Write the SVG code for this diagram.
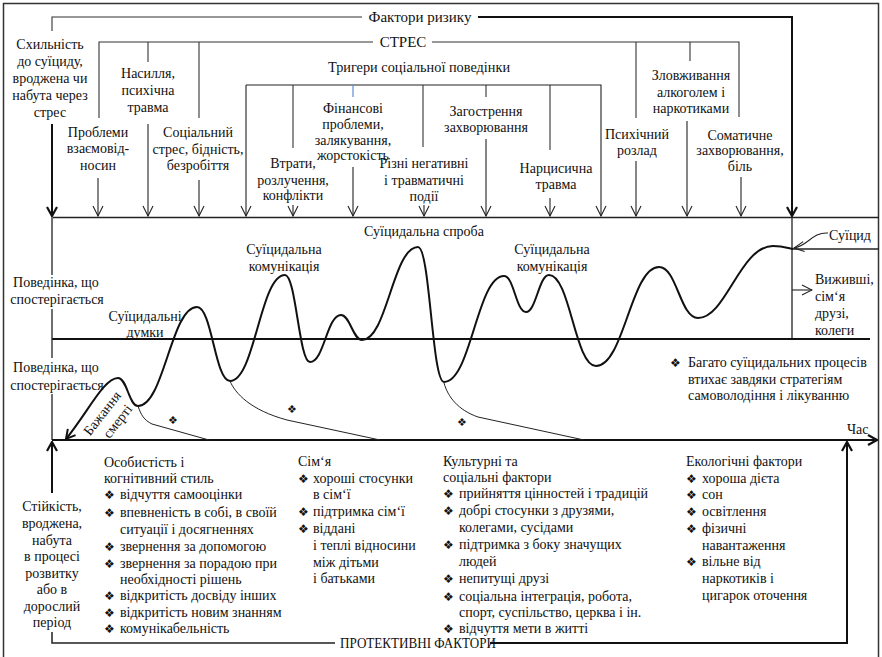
<svg xmlns="http://www.w3.org/2000/svg" width="882" height="657" viewBox="0 0 882 657">
<style>
text{font-family:'Liberation Serif','Times New Roman',serif;font-size:14px;fill:#111}
.h{font-size:15px}
.h2{font-size:14.3px}
.m{text-anchor:middle}
.b{font-family:'DejaVu Sans',sans-serif;font-size:12px}
.d{font-family:'DejaVu Sans',sans-serif;font-size:11px}
.ln{stroke:#333;stroke-width:1.1;fill:none}
.ar{stroke:#222;stroke-width:1.1;fill:none;marker-end:url(#a)}
.tk{stroke:#111;stroke-width:2;fill:none}
.tka{stroke:#111;stroke-width:2;fill:none;marker-end:url(#ab)}
</style>
<defs>
<marker id="a" viewBox="-11 -6 12 12" refX="0" refY="0" markerWidth="12" markerHeight="12" markerUnits="userSpaceOnUse" orient="auto">
<path d="M-10,-5 L0,0 L-10,5" fill="none" stroke="#222" stroke-width="1.1"/>
</marker>
<marker id="ab" viewBox="-11 -6 12 12" refX="0" refY="0" markerWidth="12" markerHeight="12" markerUnits="userSpaceOnUse" orient="auto">
<path d="M-9,-5 L0,0 L-9,5" fill="none" stroke="#111" stroke-width="2.2"/>
</marker>
<marker id="as" viewBox="-11 -6 12 12" refX="0" refY="0" markerWidth="12" markerHeight="12" markerUnits="userSpaceOnUse" orient="auto-start-reverse">
<path d="M-9,-5 L0,0 L-9,5" fill="none" stroke="#111" stroke-width="2"/>
</marker>
</defs>
<rect x="0" y="0" width="882" height="657" fill="#fff"/>
<rect x="3.5" y="3.5" width="875" height="665" fill="none" stroke="#333" stroke-width="1.5"/>

<g id="connectors">
<path class="ln" d="M52,31 V17 H362"/>
<path class="tka" d="M478,17 H792 V216"/>
<path class="tka" d="M52,124 V216"/>
<path class="ln" d="M99,118 V42 H373"/>
<path class="ln" d="M432,42 H739 V117"/>
<path class="ln" d="M148,42 V62"/>
<path class="ln" d="M199,42 V118"/>
<path class="ln" d="M636,42 V118"/>
<path class="ln" d="M690,42 V61"/>
<path class="ar" d="M246,85 H601 V216"/>
<path class="ar" d="M246,85 V216"/>
<path class="ln" d="M293,85 V148"/>
<path d="M353,85 V97" stroke="#5b8fd0" stroke-width="1.2" fill="none"/>
<path class="ln" d="M423,85 V147"/>
<path class="ln" d="M486,85 V97"/>
<path class="ln" d="M550,85 V150"/>
<path class="ar" d="M98,178 V216"/>
<path class="ar" d="M148,124 V216"/>
<path class="ar" d="M199,180 V216"/>
<path class="ar" d="M293,205 V216"/>
<path class="ar" d="M353,167 V216"/>
<path class="ar" d="M424,205 V216"/>
<path class="ar" d="M486,139 V216"/>
<path class="ar" d="M550,198 V216"/>
<path class="ar" d="M636,161 V216"/>
<path class="ar" d="M687,121 V216"/>
<path class="ar" d="M741,177 V216"/>
<path d="M53,217.5 H879" stroke="#222" stroke-width="1.5" fill="none"/>
<path d="M792,217 V339" stroke="#222" stroke-width="1.3" fill="none"/>
<path d="M792,249 H879" stroke="#222" stroke-width="1.5" fill="none"/>
<path class="tk" d="M52,339 H870"/>
<path d="M52,217 V275 M52,309 V358 M52,394 V440" stroke="#222" stroke-width="1.3" fill="none"/>
<path class="tka" d="M52,440 H877"/>
<path class="ar" d="M828,233 C812,232 808,246 794,248"/>
<path class="ar" d="M792,290 H812"/>
<path class="tk" style="marker-start:url(#as)" d="M66,439 C88,412 104,378 118,378 C127,378 129,406 138,406 C164,406 171,307 197,307 C212,307 215,381 230,381 C255,381 260,275 285,275 C296,275 299,362 310,362 C324,362 327,315 341,315 C350,315 353,340 362,340 C387,340 393,247 418,247 C430,247 432,382 444,382 C471,382 477,276 504,276 C514,276 516,312 526,312 C536,312 539,275 549,275 C570,275 575,366 596,366 C624,366 631,267 659,267 C677,267 680,318 698,318 C726,318 740,246 773,246 C782,246 788,248 793,249"/>
<path d="M138,406 C141,415 144,420 152,424 L209,440" stroke="#222" stroke-width="1" fill="none"/>
<path d="M230,381 C235,393 250,410 287,420 L380,440" stroke="#222" stroke-width="1" fill="none"/>
<path d="M444,383 C448,397 458,410 478,417 L584,440" stroke="#222" stroke-width="1" fill="none"/>
<path class="tka" d="M52,493 V442"/>
<path d="M52,632 V643 H335" stroke="#222" stroke-width="1.5" fill="none"/>
<path class="tka" d="M490,643 H847 V442"/>
</g>

<g id="risk-header">
<text class="m h" x="420" y="22">Фактори ризику</text>
<text class="m h" x="403" y="47">СТРЕС</text>
<text class="m h2" x="419" y="72">Тригери соціальної поведінки</text>
</g>
<g id="n-predisposition">
<text class="m" x="50" y="49">Схильність</text>
<text class="m" x="50" y="66">до суїциду,</text>
<text class="m" x="50" y="83">вроджена чи</text>
<text class="m" x="50" y="100">набута через</text>
<text class="m" x="50" y="117">стрес</text>
</g>
<g id="n-violence">
<text class="m" x="148" y="78">Насилля,</text>
<text class="m" x="148" y="95">психічна</text>
<text class="m" x="148" y="112">травма</text>
</g>
<g id="n-relations">
<text class="m" x="98" y="137">Проблеми</text>
<text class="m" x="98" y="153">взаємовід-</text>
<text class="m" x="98" y="170">носин</text>
</g>
<g id="n-social-stress">
<text class="m" x="198" y="137">Соціальний</text>
<text class="m" x="198" y="154">стрес, бідність,</text>
<text class="m" x="198" y="170">безробіття</text>
</g>
<g id="n-loss">
<text class="m" x="293" y="168">Втрати,</text>
<text class="m" x="293" y="185">розлучення,</text>
<text class="m" x="293" y="200">конфлікти</text>
</g>
<g id="n-finance">
<text class="m" x="353" y="113">Фінансові</text>
<text class="m" x="353" y="129">проблеми,</text>
<text class="m" x="353" y="145">залякування,</text>
<text class="m" x="353" y="160">жорстокість</text>
</g>
<g id="n-negative">
<text class="m" x="424" y="168">Різні негативні</text>
<text class="m" x="424" y="185">і травматичні</text>
<text class="m" x="424" y="201">події</text>
</g>
<g id="n-disease">
<text class="m" x="486" y="116">Загострення</text>
<text class="m" x="486" y="132">захворювання</text>
</g>
<g id="n-narcissic">
<text class="m" x="556" y="173">Нарцисична</text>
<text class="m" x="556" y="189">травма</text>
</g>
<g id="n-mental">
<text class="m" x="637" y="139">Психічний</text>
<text class="m" x="637" y="155">розлад</text>
</g>
<g id="n-abuse">
<text class="m" x="691" y="80">Зловживання</text>
<text class="m" x="691" y="97">алкоголем і</text>
<text class="m" x="691" y="113">наркотиками</text>
</g>
<g id="n-somatic">
<text class="m" x="740" y="140">Соматичне</text>
<text class="m" x="740" y="155">захворювання,</text>
<text class="m" x="740" y="171">біль</text>
</g>

<g id="chart-labels">
<text class="m" x="56" y="287">Поведінка, що</text>
<text class="m" x="57" y="304">спостерігається</text>
<text class="m" x="56" y="372">Поведінка, що</text>
<text class="m" x="57" y="390">спостерігається</text>
<text class="m" x="145" y="321">Суїцидальні</text>
<text class="m" x="145" y="337">думки</text>
<text class="m" x="284" y="254">Суїцидальна</text>
<text class="m" x="284" y="271">комунікація</text>
<text class="m" x="424" y="236">Суїцидальна спроба</text>
<text class="m" x="552" y="254">Суїцидальна</text>
<text class="m" x="552" y="271">комунікація</text>
<text x="829" y="240">Суїцид</text>
<text x="815" y="284">Вижившi,</text>
<text x="815" y="301">сім‘я</text>
<text x="815" y="318">друзі,</text>
<text x="815" y="335">колеги</text>
<text y="367"><tspan class="b" x="670">❖</tspan><tspan x="688">Багато суїцидальних процесів</tspan></text>
<text x="688" y="384">втихає завдяки стратегіям</text>
<text x="688" y="400">самоволодіння і лікуванню</text>
<text x="847" y="434">Час</text>
<g transform="translate(102,413) rotate(-52)">
<text class="m" x="0" y="5">Бажання</text>
<text class="m" x="3" y="22">смерті</text>
</g>
<text class="d m" x="173" y="424">❖</text>
<text class="d m" x="292" y="413">❖</text>
<text class="d m" x="462" y="426">❖</text>
</g>

<g id="n-resilience">
<text class="m" x="52" y="511">Стійкість,</text>
<text class="m" x="52" y="528">вроджена,</text>
<text class="m" x="52" y="545">набута</text>
<text class="m" x="52" y="561">в процесі</text>
<text class="m" x="52" y="578">розвитку</text>
<text class="m" x="52" y="594">або в</text>
<text class="m" x="52" y="611">дорослий</text>
<text class="m" x="52" y="627">період</text>
</g>
<g id="n-personality">
<text x="104" y="467">Особистість і</text>
<text x="104" y="483">когнітивний стиль</text>
<text y="499"><tspan class="b" x="104">❖</tspan><tspan x="120">відчуття самооцінки</tspan></text>
<text y="517"><tspan class="b" x="104">❖</tspan><tspan x="120">впевненість в собі, в своїй</tspan></text>
<text x="120" y="534">ситуації і досягненнях</text>
<text y="551"><tspan class="b" x="104">❖</tspan><tspan x="120">звернення за допомогою</tspan></text>
<text y="568"><tspan class="b" x="104">❖</tspan><tspan x="120">звернення за порадою при</tspan></text>
<text x="120" y="584">необхідності рішень</text>
<text y="600"><tspan class="b" x="104">❖</tspan><tspan x="120">відкритість досвіду інших</tspan></text>
<text y="617"><tspan class="b" x="104">❖</tspan><tspan x="120">відкритість новим знанням</tspan></text>
<text y="633"><tspan class="b" x="104">❖</tspan><tspan x="120">комунікабельність</tspan></text>
</g>
<g id="n-family">
<text x="298" y="466">Сім‘я</text>
<text y="483"><tspan class="b" x="298">❖</tspan><tspan x="313">хороші стосунки</tspan></text>
<text x="313" y="499">в сім‘ї</text>
<text y="516"><tspan class="b" x="298">❖</tspan><tspan x="313">підтримка сім‘ї</tspan></text>
<text y="533"><tspan class="b" x="298">❖</tspan><tspan x="313">віддані</tspan></text>
<text x="313" y="550">і теплі відносини</text>
<text x="313" y="567">між дітьми</text>
<text x="313" y="583">і батьками</text>
</g>
<g id="n-culture">
<text x="443" y="466">Культурні та</text>
<text x="443" y="482">соціальні фактори</text>
<text y="498"><tspan class="b" x="443">❖</tspan><tspan x="459">прийняття цінностей і традицій</tspan></text>
<text y="515"><tspan class="b" x="443">❖</tspan><tspan x="459">добрі стосунки з друзями,</tspan></text>
<text x="459" y="532">колегами, сусідами</text>
<text y="549"><tspan class="b" x="443">❖</tspan><tspan x="459">підтримка з боку значущих</tspan></text>
<text x="459" y="566">людей</text>
<text y="583"><tspan class="b" x="443">❖</tspan><tspan x="459">непитущі друзі</tspan></text>
<text y="601"><tspan class="b" x="443">❖</tspan><tspan x="459">соціальна інтеграція, робота,</tspan></text>
<text x="459" y="617">спорт, суспільство, церква і ін.</text>
<text y="633"><tspan class="b" x="443">❖</tspan><tspan x="459">відчуття мети в житті</tspan></text>
</g>
<g id="n-ecology">
<text x="686" y="466">Екологічні фактори</text>
<text y="483"><tspan class="b" x="686">❖</tspan><tspan x="702">хороша дієта</tspan></text>
<text y="499"><tspan class="b" x="686">❖</tspan><tspan x="702">сон</tspan></text>
<text y="516"><tspan class="b" x="686">❖</tspan><tspan x="702">освітлення</tspan></text>
<text y="533"><tspan class="b" x="686">❖</tspan><tspan x="702">фізичні</tspan></text>
<text x="702" y="550">навантаження</text>
<text y="566"><tspan class="b" x="686">❖</tspan><tspan x="702">вільне від</tspan></text>
<text x="702" y="583">наркотиків і</text>
<text x="702" y="600">цигарок оточення</text>
</g>
<g id="protective-header">
<text x="340" y="648" textLength="156" lengthAdjust="spacingAndGlyphs">ПРОТЕКТИВНІ ФАКТОРИ</text>
</g>
</svg>
